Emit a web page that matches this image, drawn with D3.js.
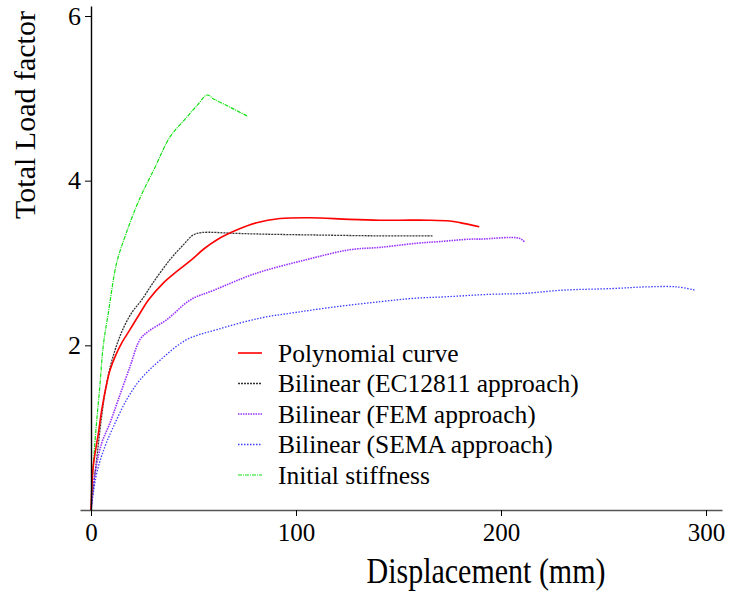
<!DOCTYPE html>
<html>
<head>
<meta charset="utf-8">
<script src="https://cdn.jsdelivr.net/npm/d3@7"></script>
<style>
  body { margin: 0; background: #fff; }
  text { font-family: "Liberation Serif", "Times New Roman", serif; fill: #000; }
</style>
</head>
<body>
<svg id="chart" width="730" height="594"></svg>
<script>
// Series values: [displacement (mm), total load factor]
const polynomial = [[0,0],[1.1,0.53],[3.6,0.93],[5.2,1.21],[7.7,1.54],[9.3,1.7],[11.7,1.86],[15,2.03],[19,2.19],
  [23.9,2.39],[28,2.55],[35,2.75],[42,2.9],[49.1,3.04],[55,3.17],[61.3,3.28],[71,3.4],[80.8,3.49],[92.2,3.54],
  [106.8,3.55],[126,3.53],[141,3.52],[150.7,3.52],[165,3.52],[175,3.51],[180,3.49],[189.4,3.44]];
const ec12811 = [[0,0],[1.5,0.35],[3.1,0.69],[5,1.1],[7,1.45],[9.5,1.75],[12.5,2.0],[16,2.22],[20,2.4],[24.7,2.55],
  [30,2.75],[38.5,3.04],[45,3.22],[49.8,3.34],[54,3.37],[70,3.36],[85,3.35],[110,3.34],[140,3.33],[167,3.33]];
const fem = [[0,0],[2,0.45],[5.2,0.81],[9.3,1.06],[13.3,1.34],[19,1.74],[23.9,2.07],[28,2.17],[36.9,2.31],[48.3,2.55],
  [60,2.67],[80,2.87],[105,3.04],[126,3.16],[141,3.19],[159,3.24],[170,3.26],[185,3.29],[190,3.29],[209,3.3],[211.7,3.25]];
const sema = [[0,0],[2.8,0.45],[6.8,0.77],[10.9,1.01],[17.4,1.34],[23.9,1.58],[33.7,1.82],[46.7,2.07],[61.3,2.19],
  [82.4,2.33],[100,2.4],[120,2.47],[141,2.53],[157,2.57],[173.5,2.59],[195,2.62],[210.9,2.63],[230,2.67],
  [254.6,2.69],[271,2.71],[285.7,2.71],[294.6,2.67]];
const initialStiffness = [[0,0],[1,0.5],[2.5,1.0],[4.3,1.5],[6,2.0],[8.5,2.4],[12.5,3.0],[17,3.35],[23.9,3.79],
  [31,4.15],[38.5,4.53],[46,4.75],[52,4.92],[56.6,5.04],[60,4.99],[68,4.89],[76.6,4.78]];

const seriesNames = ["Polynomial curve", "Bilinear (EC12811 approach)", "Bilinear (FEM approach)",
  "Bilinear (SEMA approach)", "Initial stiffness"];
const seriesData = [polynomial, ec12811, fem, sema, initialStiffness];
const xTicks = [0, 100, 200, 300];
const yTicks = [2, 4, 6];

// styles per series
const styles = [
  { color: "#ff0000", width: 1.6, dash: null },
  { color: "#333333", width: 1.3, dash: "2,1" },
  { color: "#9933ff", width: 1.6, dash: "1.5,1" },
  { color: "#3d3dff", width: 1.3, dash: "1.5,1.5" },
  { color: "#11e011", width: 1.2, dash: "4,1,1,1" }
];

const svg = d3.select("#chart");

const x = d3.scaleLinear().domain([0, 300]).range([91, 706]);
const y = d3.scaleLinear().domain([0, 6]).range([510, 16]);

// axes, with lines running a bit past the data range like the original
const xAxisScale = x.copy().domain([x.invert(80), x.invert(722)]).range([80, 722]);
const yAxisScale = y.copy().domain([y.invert(510), y.invert(6)]).range([510, 6]);

const order = [4, 1, 2, 3, 0]; // draw red on top
const line = d3.line().x(d => x(d[0])).y(d => y(d[1])).curve(d3.curveCatmullRom.alpha(0.5));

order.forEach(i => {
  svg.append("path")
    .datum(seriesData[i])
    .attr("d", line)
    .attr("fill", "none")
    .attr("stroke", styles[i].color)
    .attr("stroke-width", styles[i].width)
    .attr("stroke-dasharray", styles[i].dash);
});

const gx = svg.append("g")
  .attr("transform", `translate(0,${y(0)})`)
  .call(d3.axisBottom(xAxisScale).tickValues(xTicks).tickFormat(d3.format("d"))
    .tickSizeInner(6).tickSizeOuter(0).tickPadding(7));
gx.select(".domain").attr("stroke", "#555").attr("stroke-width", 1.6);
gx.selectAll(".tick line").attr("stroke", "#000");
gx.selectAll(".tick text").style("font-size", "25px").attr("fill", "#000");

const gy = svg.append("g")
  .attr("transform", `translate(${x(0)},0)`)
  .call(d3.axisLeft(yAxisScale).tickValues(yTicks).tickFormat(d3.format("d"))
    .tickSizeInner(6).tickSizeOuter(0).tickPadding(4));
gy.select(".domain").attr("stroke", "#000").attr("stroke-width", 1.4);
gy.selectAll(".tick text").style("font-size", "26px").attr("fill", "#000");

svg.append("text")
  .attr("transform", "translate(35,115) rotate(-90)")
  .attr("text-anchor", "middle")
  .style("font-size", "30px")
  .text("Total Load factor");

// the original title is drawn a little taller than wide
svg.append("text")
  .attr("transform", "translate(486,583) scale(1,1.2)")
  .attr("text-anchor", "middle")
  .style("font-size", "30px")
  .text("Displacement (mm)");

// legend
const legend = svg.append("g").attr("transform", "translate(238,353)");
seriesNames.forEach((name, i) => {
  const row = legend.append("g").attr("transform", `translate(0,${i * 30.5})`);
  row.append("line")
    .attr("x1", 0).attr("x2", 24).attr("y1", 0).attr("y2", 0)
    .attr("stroke", styles[i].color)
    .attr("stroke-width", styles[i].width)
    .attr("stroke-dasharray", styles[i].dash);
  row.append("text")
    .attr("x", 40).attr("y", 8.5)
    .style("font-size", "25.5px")
    .text(name);
});
</script>
</body>
</html>
